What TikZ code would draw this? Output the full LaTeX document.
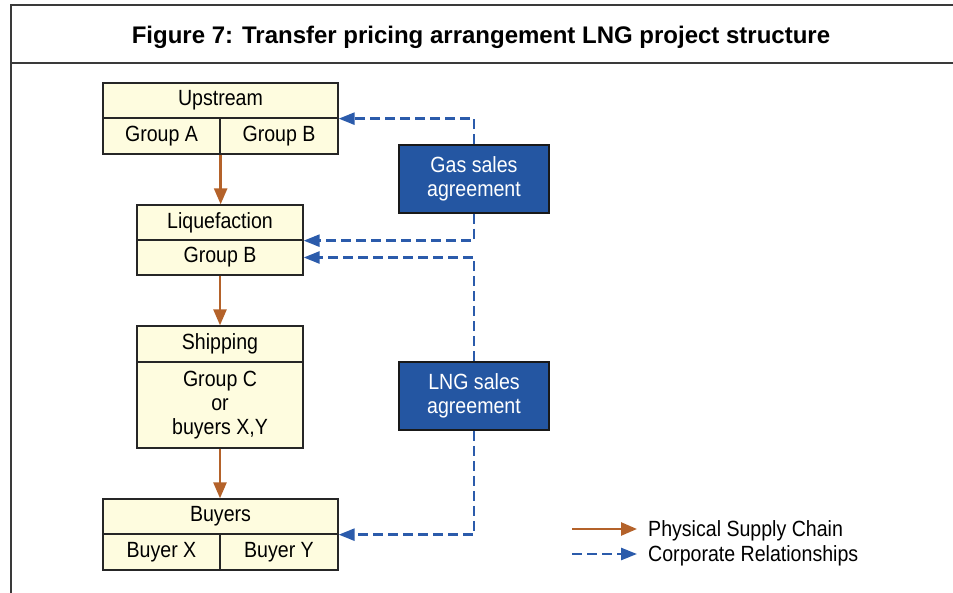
\documentclass[tikz,border=0pt]{standalone}
\usepackage{fontspec}
\setmainfont{Liberation Sans}[FakeStretch=0.89]
\newfontfamily\titlefont{Liberation Sans}[FakeStretch=1.0]
\usetikzlibrary{arrows.meta}
\definecolor{boxfill}{HTML}{FEFCDF}
\definecolor{gasblue}{HTML}{2456A2}
\definecolor{supplybrown}{HTML}{B4622A}
\definecolor{corpblue}{HTML}{2B5BAB}
\definecolor{framegray}{HTML}{3A3A3A}
\tikzset{
  cell/.style={draw=black!85, line width=1.3pt, fill=boxfill, inner sep=0pt, font=\fontsize{22}{24}\selectfont, align=center},
  agree/.style={draw=black!90, line width=1.5pt, fill=gasblue, text=white, inner sep=0pt, minimum width=150pt, minimum height=68pt, font=\fontsize{22}{24}\selectfont, align=center},
  supply/.style={draw=supplybrown, line width=2.6pt, -{Triangle[length=16pt,width=13pt]}},
  corp/.style={draw=corpblue, line width=2.6pt, dash pattern=on 10pt off 5pt, -{Triangle[length=16pt,width=12pt]}},
  legtext/.style={anchor=west, inner sep=0pt, font=\fontsize{22}{24}\selectfont},
}
\begin{document}
\begin{tikzpicture}[x=1pt,y=-1pt]
\useasboundingbox (0,0) rectangle (953,593);
% frame
\draw[framegray, line width=1.6pt] (11,600) -- (11,5) -- (960,5);
\draw[framegray, line width=1.6pt] (11,63) -- (960,63);
\node[font=\titlefont\bfseries\fontsize{24}{26}\selectfont, inner sep=0pt] (title) at (481,37) {Figure 7: Transfer pricing arrangement LNG project structure};
% Upstream
\node[cell, minimum width=235pt, minimum height=35pt] (upH) at (220.5,100.5) {Upstream};
\node[cell, minimum width=117pt, minimum height=36pt] (upA) at (161.5,136) {Group A};
\node[cell, minimum width=118pt, minimum height=36pt] (upB) at (279,136) {Group B};
% Liquefaction
\node[cell, minimum width=166pt, minimum height=35pt] (liqH) at (220,222.5) {Liquefaction};
\node[cell, minimum width=166pt, minimum height=35pt] (liqB) at (220,257.5) {Group B};
% Shipping
\node[cell, minimum width=166pt, minimum height=36pt] (shipH) at (220,344) {Shipping};
\node[cell, minimum width=166pt, minimum height=86pt, font=\fontsize{22}{24}\selectfont] (shipB) at (220,405) {Group C\\or\\buyers X,Y};
% Buyers
\node[cell, minimum width=235pt, minimum height=35pt] (buyH) at (220.5,516.5) {Buyers};
\node[cell, minimum width=117pt, minimum height=36pt] (buyX) at (161.5,552) {Buyer X};
\node[cell, minimum width=118pt, minimum height=36pt] (buyY) at (279,552) {Buyer Y};
% agreements
\node[agree] (gas) at (474,179) {Gas sales\\agreement};
\node[agree] (lng) at (474,396) {LNG sales\\agreement};
% supply chain
\draw[supply] (upA.south east) -- (upA.south east |- liqH.north);
\draw[supply] (liqB.south) -- (shipH.north);
\draw[supply] (shipB.south) -- (shipB.south |- buyH.north);
% corporate
\draw[corp] (gas.north) |- (upH.south east);
\draw[corp] (gas.south) |- (liqH.south east);
\draw[corp] (lng.north) |- (liqB.east);
\draw[corp] (lng.south) |- (buyH.south east);
% legend
\coordinate (l1a) at (572,529);
\coordinate (l1b) at (637,529);
\coordinate (l2a) at (572,554);
\coordinate (l2b) at (637,554);
\draw[supply] (l1a) -- (l1b);
\draw[corp] (l2a) -- (l2b);
\node[legtext] (leg1) at (648,530.5) {Physical Supply Chain};
\node[legtext] (leg2) at (648,555.5) {Corporate Relationships};
\end{tikzpicture}
\end{document}
